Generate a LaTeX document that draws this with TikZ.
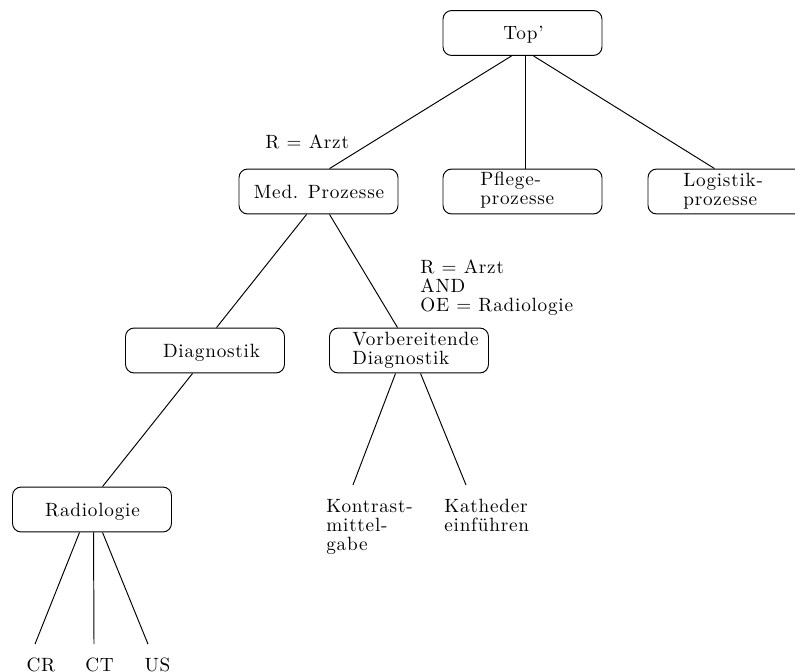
\documentclass[tikz,border=0pt]{standalone}
\usepackage{fontspec}
\setmainfont{lmroman10-regular}[Extension=.otf, LetterSpace=4]
\usetikzlibrary{calc}
\begin{document}
\begin{tikzpicture}[x=0.5208pt, y=-0.5208pt,
  box/.style={draw, rounded corners=4.5pt, line width=0.5pt, minimum width=82.8pt, minimum height=23.4pt, inner sep=0pt},
  lbl/.style={inner sep=0pt, align=left, font=\fontsize{10}{9.8}\selectfont},
  edge/.style={line width=0.5pt}]
\useasboundingbox (0,0) rectangle (795,672);
% boxes
\node[box] (top) at (522.5,33) {};
\node[box] (med) at (318.5,191.5) {};
\node[box] (pflege) at (522.5,191.5) {};
\node[box] (logistik) at (727.5,191.5) {};
\node[box] (diag) at (205,350.5) {};
\node[box] (vorb) at (409,350.5) {};
\node[box] (radio) at (92,509.5) {};
% texts (base anchor of a multi-line node = baseline of its last line)
\node[lbl, anchor=base] (toptxt) at (523.5,39.5) {Top'};
\node[lbl, anchor=base] (medtxt) at (319,198) {Med. Prozesse};
\node[lbl, anchor=base west] (pflegetxt) at (480,204) {Pflege-\\prozesse};
\node[lbl, anchor=base west] (logtxt) at (683,205) {Logistik-\\prozesse};
\node[lbl, anchor=base] (diagtxt) at (211.5,357) {Diagnostik};
\node[lbl, anchor=base west] (vorbtxt) at (352,364) {Vorbereitende\\Diagnostik};
\node[lbl, anchor=base] (radiotxt) at (92.5,516) {Radiologie};
\node[lbl, anchor=base west] (r1) at (265,148) {R = Arzt};
\node[lbl, anchor=base west] (r2) at (420,311) {R = Arzt\\AND\\OE = Radiologie};
\node[lbl, anchor=base west] (kontrast) at (326,550) {Kontrast-\\mittel-\\gabe};
\node[lbl, anchor=base west] (katheder) at (444,531) {Katheder\\einführen};
\node[lbl, anchor=base] (cr) at (41,671) {CR};
\node[lbl, anchor=base] (ct) at (99.5,671) {CT};
\node[lbl, anchor=base] (us) at (157.5,671) {US};
% connectors
\draw[edge] ($(top.south west)+(69,0)$) -- ($(med.north west)+(91,0)$);
\draw[edge] ($(top.south west)+(83,0)$) -- ($(pflege.north west)+(83,0)$);
\draw[edge] ($(top.south west)+(91,0)$) -- ($(logistik.north west)+(67,0)$);
\draw[edge] ($(med.south west)+(68,0)$) -- ($(diag.north west)+(91.5,0)$);
\draw[edge] ($(med.south west)+(91,0)$) -- ($(vorb.north west)+(68.5,0)$);
\draw[edge] ($(diag.south west)+(67.5,0)$) -- ($(radio.north west)+(90.5,0)$);
\draw[edge] ($(radio.south west)+(67.5,0)$) -- ($(cr.north)+(-6,-13)$);
\draw[edge] ($(radio.south west)+(81.5,0)$) -- ($(ct.north)+(-5.5,-13)$);
\draw[edge] ($(radio.south west)+(90.5,0)$) -- ($(us.north)+(-9.5,-13)$);
\draw[edge] ($(vorb.south west)+(66.5,0)$) -- ($(kontrast.north west)+(27,-14)$);
\draw[edge] ($(vorb.south west)+(91.5,0)$) -- ($(katheder.north west)+(22,-13.5)$);
\end{tikzpicture}
\end{document}
